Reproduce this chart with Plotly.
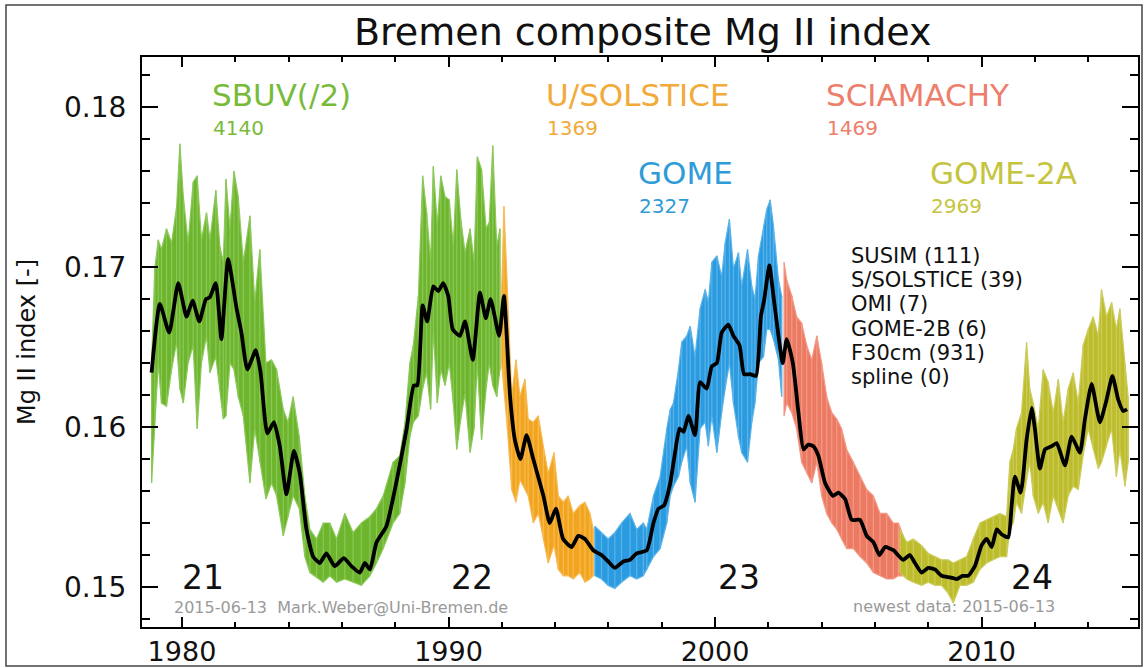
import plotly.graph_objects as go

# ---------------- data ----------------
# SBUV(/2) daily data envelope
sbuv_t = [1978.86,1978.98,1979.11,1979.23,1979.42,1979.61,1979.80,1979.92,1980.05,1980.23,1980.42,1980.57,1980.73,1980.92,1981.05,1981.27,1981.42,1981.55,1981.65,1981.80,1981.95,1982.11,1982.30,1982.55,1982.73,1982.92,1983.15,1983.36,1983.55,1983.80,1983.98,1984.17,1984.40,1984.61,1984.80,1985.05,1985.30,1985.55,1985.80,1986.11,1986.42,1986.73,1987.05,1987.30,1987.55,1987.92,1988.17,
          1988.37,1988.55,1988.68,1988.87,1989.03,1989.18,1989.33,1989.43,1989.58,1989.71,1989.87,1990.03,1990.18,1990.31,1990.46,1990.62,1990.81,1990.96,1991.08,1991.24,1991.41,1991.53,1991.66,1991.81,1991.93]
sbuv_hi = [0.1640,0.1699,0.1717,0.1711,0.1724,0.1715,0.1738,0.1777,0.1744,0.1715,0.1753,0.1757,0.1717,0.1734,0.1717,0.1748,0.1713,0.1703,0.1755,0.1724,0.1760,0.1744,0.1703,0.1732,0.1678,0.1711,0.1640,0.1642,0.1636,0.1611,0.1603,0.1619,0.1594,0.1557,0.1536,0.1530,0.1540,0.1540,0.1530,0.1546,0.1534,0.1540,0.1544,0.1549,0.1557,0.1578,0.1582,
           0.1603,0.1640,0.1651,0.1682,0.1757,0.1734,0.1703,0.1763,0.1726,0.1757,0.1744,0.1742,0.1713,0.1761,0.1730,0.1709,0.1724,0.1703,0.1769,0.1761,0.1724,0.1728,0.1776,0.1713,0.1724]
sbuv_lo = [0.1565,0.1603,0.1640,0.1615,0.1613,0.1636,0.1653,0.1624,0.1615,0.1640,0.1651,0.1599,0.1640,0.1657,0.1634,0.1644,0.1624,0.1605,0.1607,0.1640,0.1636,0.1619,0.1607,0.1565,0.1599,0.1578,0.1555,0.1565,0.1557,0.1532,0.1544,0.1557,0.1549,0.1519,0.1509,0.1506,0.1503,0.1507,0.1503,0.1505,0.1503,0.1501,0.1507,0.1515,0.1524,0.1540,0.1546,
           0.1565,0.1594,0.1603,0.1607,0.1624,0.1634,0.1611,0.1661,0.1615,0.1636,0.1626,0.1640,0.1615,0.1586,0.1605,0.1621,0.1584,0.1599,0.1640,0.1592,0.1624,0.1640,0.1626,0.1619,0.1636]

# U/SOLSTICE
usol_t = [1991.99,1992.08,1992.21,1992.37,1992.53,1992.68,1992.87,1992.99,1993.18,1993.37,1993.56,1993.74,1993.96,1994.12,1994.31,1994.49,1994.68,1994.93,1995.12,1995.31,1995.43]
usol_hi = [0.1682,0.1738,0.1686,0.1619,0.1642,0.1619,0.1630,0.1605,0.1603,0.1607,0.1588,0.1571,0.1584,0.1557,0.1553,0.1557,0.1546,0.1551,0.1553,0.1546,0.1536]
usol_lo = [0.1640,0.1624,0.1599,0.1561,0.1553,0.1567,0.1561,0.1557,0.1540,0.1546,0.1530,0.1515,0.1526,0.1511,0.1507,0.1507,0.1505,0.1509,0.1503,0.1505,0.1507]

# GOME
gome_t = [1995.49,1995.74,1995.99,1996.24,1996.49,1996.81,1997.06,1997.31,1997.44,1997.69,1997.94,1998.19,1998.32,1998.44,1998.63,1998.75,1998.94,1999.07,1999.25,1999.44,1999.63,1999.75,1999.88,2000.07,2000.25,2000.38,2000.54,2000.69,2000.88,2001.00,2001.22,2001.38,2001.50,2001.63,2001.82,2001.94,2002.07,2002.19,2002.38,2002.50]
gome_hi = [0.1538,0.1534,0.1530,0.1534,0.1540,0.1546,0.1536,0.1540,0.1536,0.1557,0.1569,0.1599,0.1611,0.1615,0.1636,0.1653,0.1657,0.1663,0.1644,0.1674,0.1686,0.1678,0.1703,0.1707,0.1694,0.1715,0.1730,0.1699,0.1709,0.1688,0.1711,0.1688,0.1680,0.1707,0.1724,0.1736,0.1742,0.1726,0.1692,0.1682]
gome_lo = [0.1507,0.1505,0.1501,0.1499,0.1503,0.1507,0.1505,0.1507,0.1511,0.1519,0.1524,0.1540,0.1557,0.1563,0.1569,0.1578,0.1588,0.1565,0.1553,0.1599,0.1603,0.1588,0.1607,0.1584,0.1609,0.1624,0.1640,0.1615,0.1594,0.1584,0.1578,0.1603,0.1615,0.1640,0.1644,0.1661,0.1661,0.1655,0.1642,0.1619]

# SCIAMACHY
scia_t = [2002.59,2002.69,2002.88,2003.06,2003.25,2003.44,2003.63,2003.82,2004.00,2004.19,2004.38,2004.57,2004.75,2004.94,2005.19,2005.44,2005.69,2005.94,2006.19,2006.44,2006.69,2006.88,2007.06]
scia_hi = [0.1703,0.1692,0.1682,0.1669,0.1665,0.1651,0.1642,0.1657,0.1640,0.1619,0.1609,0.1605,0.1599,0.1586,0.1578,0.1569,0.1561,0.1557,0.1546,0.1546,0.1540,0.1540,0.1532]
scia_lo = [0.1607,0.1615,0.1609,0.1599,0.1578,0.1571,0.1565,0.1578,0.1557,0.1546,0.1540,0.1536,0.1530,0.1524,0.1524,0.1519,0.1515,0.1509,0.1507,0.1505,0.1505,0.1507,0.1507]

# GOME-2A
g2a_t = [2006.94,2007.19,2007.44,2007.75,2008.00,2008.25,2008.50,2008.75,2008.94,2009.19,2009.44,2009.69,2009.94,2010.19,2010.44,2010.69,2010.94,2011.06,2011.19,2011.31,2011.50,2011.69,2011.81,2011.94,2012.13,2012.31,2012.50,2012.69,2012.88,2013.06,2013.25,2013.44,2013.63,2013.81,2014.00,2014.19,2014.38,2014.50,2014.69,2014.88,2015.06,2015.19,2015.38,2015.50]
g2a_hi = [0.1536,0.1528,0.1530,0.1526,0.1521,0.1519,0.1517,0.1517,0.1515,0.1517,0.1519,0.1530,0.1540,0.1542,0.1544,0.1546,0.1544,0.1578,0.1586,0.1599,0.1609,0.1653,0.1624,0.1615,0.1599,0.1636,0.1628,0.1609,0.1630,0.1603,0.1624,0.1634,0.1615,0.1651,0.1661,0.1669,0.1657,0.1686,0.1669,0.1678,0.1661,0.1674,0.1640,0.1619]
g2a_lo = [0.1509,0.1505,0.1503,0.1501,0.1503,0.1501,0.1501,0.1496,0.1490,0.1501,0.1501,0.1503,0.1511,0.1515,0.1517,0.1519,0.1519,0.1536,0.1540,0.1553,0.1546,0.1567,0.1578,0.1557,0.1546,0.1553,0.1540,0.1557,0.1549,0.1540,0.1557,0.1563,0.1561,0.1582,0.1599,0.1586,0.1574,0.1578,0.1588,0.1599,0.1569,0.1586,0.1563,0.1578]

# smoothed composite (black line)
smooth_t = [1978.86,1979.17,1979.52,1979.86,1980.17,1980.40,1980.65,1980.90,1981.04,1981.27,1981.48,1981.73,1982.05,1982.23,1982.45,1982.77,1982.95,1983.20,1983.45,1983.67,1983.92,1984.20,1984.42,1984.67,1984.92,1985.17,1985.42,1985.73,1986.07,1986.36,1986.67,1986.86,1987.05,1987.30,1987.67,1988.17,
            1988.43,1988.70,1988.83,1989.03,1989.20,1989.43,1989.62,1989.80,1989.99,1990.16,1990.43,1990.62,1990.91,1991.18,1991.40,1991.58,1991.90,1992.08,1992.31,1992.49,1992.70,1992.93,1993.18,1993.56,1993.80,1994.03,1994.30,1994.62,1994.87,1995.12,1995.43,1995.74,1995.99,1996.24,1996.56,1996.81,1997.06,
            1997.44,1997.69,1997.88,1998.09,1998.32,1998.50,1998.67,1998.82,1999.00,1999.25,1999.44,1999.69,1999.88,2000.07,2000.25,2000.50,2000.69,2000.92,2001.09,2001.32,2001.54,2001.72,2001.84,2002.04,2002.19,2002.38,2002.54,2002.69,2002.92,2003.13,2003.32,2003.50,2003.69,2003.88,2004.13,2004.42,2004.63,2004.88,2005.13,2005.44,2005.69,2005.94,2006.17,2006.38,2006.69,
            2007.06,2007.31,2007.50,2007.75,2008.00,2008.25,2008.50,2008.82,2009.07,2009.29,2009.50,2009.75,2010.00,2010.19,2010.38,2010.57,2010.75,2011.00,2011.13,2011.25,2011.47,2011.69,2011.88,2012.00,2012.19,2012.38,2012.63,2012.82,2013.13,2013.38,2013.69,2013.88,2014.13,2014.44,2014.69,2014.91,2015.13,2015.32,2015.46]
smooth_v = [0.1634,0.1677,0.1659,0.1690,0.1669,0.1679,0.1666,0.1680,0.1681,0.1690,0.1655,0.1705,0.1674,0.1659,0.1636,0.1648,0.1634,0.1596,0.1603,0.1588,0.1558,0.1585,0.1571,0.1536,0.1519,0.1515,0.1521,0.1513,0.1518,0.1513,0.1509,0.1515,0.1511,0.1528,0.1538,0.1576,
            0.1599,0.1626,0.1626,0.1676,0.1666,0.1688,0.1685,0.1690,0.1682,0.1661,0.1657,0.1666,0.1642,0.1684,0.1668,0.1680,0.1657,0.1682,0.1619,0.1592,0.1580,0.1595,0.1580,0.1557,0.1540,0.1549,0.1530,0.1525,0.1532,0.1530,0.1523,0.1520,0.1516,0.1512,0.1516,0.1517,0.1521,
            0.1523,0.1540,0.1549,0.1551,0.1565,0.1584,0.1599,0.1597,0.1607,0.1595,0.1628,0.1624,0.1638,0.1640,0.1659,0.1664,0.1657,0.1651,0.1633,0.1633,0.1632,0.1669,0.1679,0.1701,0.1682,0.1657,0.1640,0.1655,0.1640,0.1609,0.1586,0.1589,0.1588,0.1582,0.1565,0.1557,0.1559,0.1555,0.1542,0.1542,0.1532,0.1528,0.1520,0.1525,0.1523,
            0.1517,0.1520,0.1515,0.1509,0.1512,0.1511,0.1507,0.1506,0.1505,0.1507,0.1507,0.1513,0.1526,0.1530,0.1525,0.1536,0.1533,0.1531,0.1551,0.1569,0.1559,0.1592,0.1612,0.1599,0.1574,0.1586,0.1588,0.1590,0.1576,0.1594,0.1584,0.1605,0.1627,0.1603,0.1617,0.1632,0.1617,0.1610,0.1611]

instruments = ["SBUV(/2)", "U/SOLSTICE", "GOME", "SCIAMACHY", "GOME-2A"]
instrument_days = ["4140", "1369", "2327", "1469", "2969"]
other_sources = ["SUSIM (111)", "S/SOLSTICE (39)", "OMI (7)", "GOME-2B (6)", "F30cm (931)", "spline (0)"]
cycles = ["21", "22", "23", "24"]
cycle_years = [1980.8, 1990.9, 2000.9, 2011.9]

x_ticks = [1980, 1990, 2000, 2010]
y_ticks = [0.15, 0.16, 0.17, 0.18]

# ---------------- styling ----------------
FONT = "DejaVu Sans"
fill_cols = ["#6db52c", "#f2a41e", "#2a9be0", "#ec7a62", "#bdbd2c"]
edge_cols = ["#8cc85a", "#f6bb55", "#5cb3e8", "#f29a86", "#cccc5e"]
text_cols = ["#78bb3a", "#f2aa3a", "#2f9bd8", "#ee7e6c", "#c4c43e"]

series = [(sbuv_t, sbuv_hi, sbuv_lo), (usol_t, usol_hi, usol_lo), (gome_t, gome_hi, gome_lo),
          (scia_t, scia_hi, scia_lo), (g2a_t, g2a_hi, g2a_lo)]

fig = go.Figure()
for (t, hi, lo), col, ecol, name in zip(series, fill_cols, edge_cols, instruments):
    assert len(t) == len(hi) == len(lo), name
    fig.add_trace(go.Scatter(x=list(t) + list(t)[::-1], y=list(hi) + list(lo)[::-1],
                             fill="toself", fillcolor=col, mode="lines",
                             line=dict(color=ecol, width=1.2), hoverinfo="skip", name=name))
    # daily spikes
    sx, sy = [], []
    for ti, h, l in zip(t, hi, lo):
        sx += [ti, ti, None]
        sy += [l, h, None]
    fig.add_trace(go.Scatter(x=sx, y=sy, mode="lines", line=dict(color=ecol, width=1.2),
                             hoverinfo="skip", showlegend=False))

assert len(smooth_t) == len(smooth_v)
fig.add_trace(go.Scatter(x=smooth_t, y=smooth_v, mode="lines",
                         line=dict(color="black", width=3.8, shape="spline", smoothing=0.5),
                         name="composite"))

# pixel helpers for layout placement (plot area: x 142..1138, y 57..627)
def px(x):
    return (x - 142) / 996.0

def py(y):
    return (627 - y) / 570.0

ann = []
ann.append(dict(x=px(642), y=py(32), text="Bremen composite Mg II index",
                font=dict(size=38, color="#111")))
ann.append(dict(x=px(27), y=py(342), text="Mg II index [-]", textangle=-90,
                font=dict(size=24, color="#111")))

label_pos = [(210, 115), (544, 115), (636, 193), (824, 115), (928, 193)]
for name, days, col, (lx, ly) in zip(instruments, instrument_days, text_cols, label_pos):
    ann.append(dict(x=px(lx), y=py(ly), text=name, xanchor="left", yanchor="bottom",
                    font=dict(size=31, color=col)))
    ann.append(dict(x=px(lx + 1), y=py(ly - 1), text=days, xanchor="left", yanchor="top",
                    font=dict(size=20, color=col)))

for i, s in enumerate(other_sources):
    ann.append(dict(x=px(849), y=py(256 + 24.2 * i), text=s, xanchor="left",
                    font=dict(size=21, color="#111")))

for c, cy in zip(cycles, cycle_years):
    ann.append(dict(x=cy, y=py(577), xref="x", text=c, font=dict(size=33, color="#111")))

ann.append(dict(x=px(172), y=py(607), text="2015-06-13&nbsp;&nbsp;Mark.Weber@Uni-Bremen.de",
                xanchor="left", font=dict(size=16, color="#9a9a9a")))
ann.append(dict(x=px(851), y=py(606), text="newest data: 2015-06-13",
                xanchor="left", font=dict(size=16, color="#9a9a9a")))

for a in ann:
    a.setdefault("xref", "paper")
    a.setdefault("yref", "paper")
    a.setdefault("showarrow", False)
    a.setdefault("yanchor", "middle")
    a.setdefault("xanchor", "center")

fig.update_layout(
    width=1144, height=668,
    margin=dict(l=142, r=6, t=57, b=41, pad=0, autoexpand=False),
    plot_bgcolor="white", paper_bgcolor="white",
    showlegend=False,
    font=dict(family=FONT, color="#111"),
    annotations=ann,
    shapes=[dict(type="rect", xref="paper", yref="paper", x0=px(6), x1=px(1142), y0=py(666), y1=py(5),
                 line=dict(color="#444", width=1.5), layer="below")],
)
fig.update_xaxes(range=[1978.5, 2015.87], tickvals=x_ticks, ticks="inside", ticklen=10, tickwidth=1.5,
                 tickcolor="black", minor=dict(dtick=2, tick0=1980, ticks="inside", ticklen=5, tickcolor="black"),
                 showline=True, linecolor="black", linewidth=2, mirror="ticks", automargin=False,
                 showgrid=False, zeroline=False, tickfont=dict(size=27, color="#111"),
                 ticklabelstandoff=0)
fig.update_yaxes(range=[0.1475, 0.18313], tickvals=y_ticks, tickformat=".2f", ticks="inside", ticklen=16,
                 tickwidth=1.5, tickcolor="black", automargin=False,
                 minor=dict(dtick=0.002, tick0=0.15, ticks="inside", ticklen=8, tickcolor="black"),
                 showline=True, linecolor="black", linewidth=2, mirror="ticks",
                 showgrid=False, zeroline=False, tickfont=dict(size=28, color="#111"),
                 ticklabelstandoff=8)

fig.write_html("out.html", config={"displayModeBar": False},
               post_script="document.body.style.margin='0';document.body.style.overflow='hidden';")
